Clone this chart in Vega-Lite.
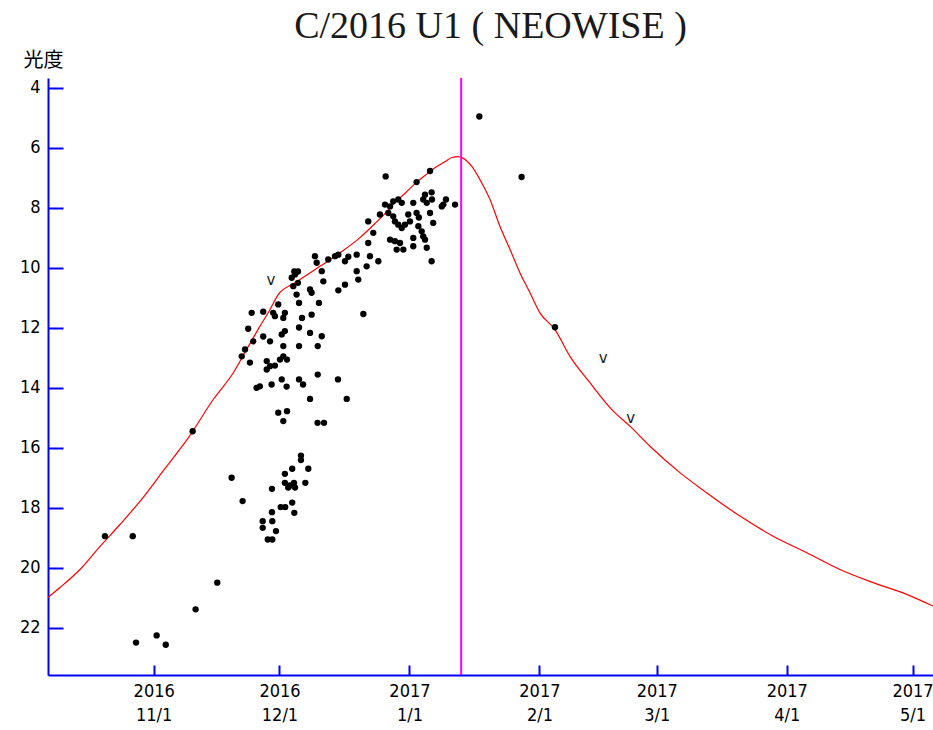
{
  "$schema": "https://vega.github.io/schema/vega-lite/v6.json",
  "autosize": "none",
  "width": 885,
  "height": 597,
  "padding": {"left": 48, "top": 78, "right": 0, "bottom": 55},
  "background": "white",
  "title": {
    "text": "C/2016 U1 ( NEOWISE )",
    "font": "Liberation Serif",
    "fontSize": 38,
    "fontWeight": "normal",
    "color": "#1a1a1a",
    "anchor": "middle",
    "frame": "group",
    "baseline": "alphabetic",
    "offset": -26
  },
  "config": {
    "view": {"stroke": null},
    "axis": {
      "grid": false,
      "domainColor": "#0000ff",
      "domainWidth": 2,
      "tickColor": "#0000ff",
      "tickWidth": 2,
      "labelColor": "#000000",
      "labelFont": "DejaVu Sans Condensed",
      "labelFontSize": 18
    }
  },
  "datasets": {
    "curve": [
      {"date": "2016-10-06T19:00", "mag": 20.99},
      {"date": "2016-10-09T16:00", "mag": 20.66},
      {"date": "2016-10-14T10:00", "mag": 20.06},
      {"date": "2016-10-19T05:00", "mag": 19.29},
      {"date": "2016-10-23T23:00", "mag": 18.56},
      {"date": "2016-10-29T03:00", "mag": 17.72},
      {"date": "2016-11-03T17:00", "mag": 16.69},
      {"date": "2016-11-09T06:00", "mag": 15.67},
      {"date": "2016-11-15T05:00", "mag": 14.39},
      {"date": "2016-11-20T00:00", "mag": 13.5},
      {"date": "2016-11-23T04:00", "mag": 12.72},
      {"date": "2016-11-26T08:00", "mag": 11.95},
      {"date": "2016-11-28T18:00", "mag": 11.39},
      {"date": "2016-11-30T17:00", "mag": 10.89},
      {"date": "2016-12-04T17:00", "mag": 10.5},
      {"date": "2016-12-10T16:00", "mag": 9.95},
      {"date": "2016-12-15T10:00", "mag": 9.5},
      {"date": "2016-12-20T05:00", "mag": 8.99},
      {"date": "2016-12-23T19:00", "mag": 8.52},
      {"date": "2016-12-26T04:00", "mag": 8.19},
      {"date": "2016-12-28T13:00", "mag": 7.82},
      {"date": "2016-12-30T22:00", "mag": 7.52},
      {"date": "2017-01-02T08:00", "mag": 7.19},
      {"date": "2017-01-04T17:00", "mag": 6.92},
      {"date": "2017-01-07T02:00", "mag": 6.66},
      {"date": "2017-01-09T11:00", "mag": 6.46},
      {"date": "2017-01-11T03:00", "mag": 6.32},
      {"date": "2017-01-12T14:00", "mag": 6.29},
      {"date": "2017-01-13T18:00", "mag": 6.34},
      {"date": "2017-01-15T20:00", "mag": 6.61},
      {"date": "2017-01-18T06:00", "mag": 7.17},
      {"date": "2017-01-20T05:00", "mag": 7.72},
      {"date": "2017-01-22T14:00", "mag": 8.61},
      {"date": "2017-01-25T00:00", "mag": 9.39},
      {"date": "2017-01-27T09:00", "mag": 10.17},
      {"date": "2017-01-29T18:00", "mag": 10.83},
      {"date": "2017-02-01T03:00", "mag": 11.5},
      {"date": "2017-02-04T17:00", "mag": 12.06},
      {"date": "2017-02-08T07:00", "mag": 12.95},
      {"date": "2017-02-13T01:00", "mag": 13.83},
      {"date": "2017-02-18T15:00", "mag": 14.78},
      {"date": "2017-02-22T14:00", "mag": 15.28},
      {"date": "2017-02-27T09:00", "mag": 15.95},
      {"date": "2017-03-06T12:00", "mag": 16.83},
      {"date": "2017-03-12T21:00", "mag": 17.5},
      {"date": "2017-03-20T20:00", "mag": 18.28},
      {"date": "2017-03-28T18:00", "mag": 18.95},
      {"date": "2017-04-05T18:00", "mag": 19.5},
      {"date": "2017-04-13T16:00", "mag": 20.06},
      {"date": "2017-04-21T15:00", "mag": 20.5},
      {"date": "2017-04-29T14:00", "mag": 20.89},
      {"date": "2017-05-05T21:00", "mag": 21.28}
    ],
    "perihelion": [{"date": "2017-01-13T08:00"}],
    "limits": [
      {"date": "2016-11-28T23:00", "mag": 10.39, "note": "v"},
      {"date": "2017-02-16T05:00", "mag": 13.0, "note": "v"},
      {"date": "2017-02-22T18:00", "mag": 15.0, "note": "v"}
    ],
    "obs": [
      {"date": "2016-10-20T09:00", "mag": 18.95},
      {"date": "2016-10-27T00:00", "mag": 18.95},
      {"date": "2016-10-27T19:00", "mag": 22.5},
      {"date": "2016-11-01T17:00", "mag": 22.26},
      {"date": "2016-11-03T21:00", "mag": 22.57},
      {"date": "2016-11-11T00:00", "mag": 21.39},
      {"date": "2016-11-16T04:00", "mag": 20.5},
      {"date": "2016-11-10T07:00", "mag": 15.45},
      {"date": "2016-11-19T14:00", "mag": 17.0},
      {"date": "2016-11-22T05:00", "mag": 17.78},
      {"date": "2016-12-06T03:00", "mag": 16.26},
      {"date": "2016-12-06T03:00", "mag": 16.41},
      {"date": "2016-12-04T01:00", "mag": 16.7},
      {"date": "2016-12-07T21:00", "mag": 16.7},
      {"date": "2016-12-02T07:00", "mag": 16.87},
      {"date": "2016-12-02T07:00", "mag": 17.17},
      {"date": "2016-12-03T12:00", "mag": 17.26},
      {"date": "2016-12-04T11:00", "mag": 17.17},
      {"date": "2016-12-04T17:00", "mag": 17.33},
      {"date": "2016-12-03T02:00", "mag": 17.33},
      {"date": "2016-12-07T04:00", "mag": 17.17},
      {"date": "2016-11-29T05:00", "mag": 17.37},
      {"date": "2016-12-01T07:00", "mag": 17.98},
      {"date": "2016-12-02T09:00", "mag": 17.98},
      {"date": "2016-12-04T01:00", "mag": 17.83},
      {"date": "2016-12-04T13:00", "mag": 18.17},
      {"date": "2016-11-29T05:00", "mag": 18.15},
      {"date": "2016-11-27T00:00", "mag": 18.45},
      {"date": "2016-11-27T00:00", "mag": 18.67},
      {"date": "2016-11-29T07:00", "mag": 18.45},
      {"date": "2016-11-30T04:00", "mag": 18.78},
      {"date": "2016-11-28T05:00", "mag": 19.06},
      {"date": "2016-11-29T07:00", "mag": 19.06},
      {"date": "2016-12-01T22:00", "mag": 15.11},
      {"date": "2016-12-10T02:00", "mag": 15.17},
      {"date": "2016-12-11T15:00", "mag": 15.17},
      {"date": "2016-11-30T17:00", "mag": 14.83},
      {"date": "2016-12-02T19:00", "mag": 14.78},
      {"date": "2016-12-08T07:00", "mag": 14.37},
      {"date": "2016-12-17T01:00", "mag": 14.37},
      {"date": "2016-12-14T23:00", "mag": 13.72},
      {"date": "2016-12-10T03:00", "mag": 13.56},
      {"date": "2016-12-05T16:00", "mag": 13.72},
      {"date": "2016-12-06T15:00", "mag": 13.89},
      {"date": "2016-12-02T17:00", "mag": 13.96},
      {"date": "2016-12-01T13:00", "mag": 13.72},
      {"date": "2016-11-29T03:00", "mag": 13.89},
      {"date": "2016-11-25T13:00", "mag": 14.0},
      {"date": "2016-11-26T08:00", "mag": 13.95},
      {"date": "2016-11-29T22:00", "mag": 13.26},
      {"date": "2016-11-27T23:00", "mag": 13.11},
      {"date": "2016-11-28T18:00", "mag": 13.28},
      {"date": "2016-11-27T23:00", "mag": 13.39},
      {"date": "2016-12-01T03:00", "mag": 13.06},
      {"date": "2016-12-01T22:00", "mag": 12.95},
      {"date": "2016-12-02T19:00", "mag": 13.06},
      {"date": "2016-11-23T23:00", "mag": 13.16},
      {"date": "2016-11-22T19:00", "mag": 12.72},
      {"date": "2016-11-22T00:00", "mag": 12.95},
      {"date": "2016-11-24T18:00", "mag": 12.45},
      {"date": "2016-11-27T03:00", "mag": 12.29},
      {"date": "2016-11-28T18:00", "mag": 12.45},
      {"date": "2016-12-01T13:00", "mag": 12.22},
      {"date": "2016-12-02T07:00", "mag": 12.11},
      {"date": "2016-12-01T22:00", "mag": 12.61},
      {"date": "2016-12-05T16:00", "mag": 12.61},
      {"date": "2016-12-10T03:00", "mag": 12.61},
      {"date": "2016-12-05T16:00", "mag": 11.99},
      {"date": "2016-12-08T07:00", "mag": 12.17},
      {"date": "2016-12-11T02:00", "mag": 12.28},
      {"date": "2016-11-23T13:00", "mag": 12.03},
      {"date": "2016-11-24T09:00", "mag": 11.5},
      {"date": "2016-11-27T03:00", "mag": 11.46},
      {"date": "2016-11-29T12:00", "mag": 11.5},
      {"date": "2016-11-29T22:00", "mag": 11.61},
      {"date": "2016-11-30T17:00", "mag": 11.22},
      {"date": "2016-12-02T07:00", "mag": 11.5},
      {"date": "2016-12-01T22:00", "mag": 11.67},
      {"date": "2016-12-06T09:00", "mag": 11.67},
      {"date": "2016-12-08T16:00", "mag": 11.56},
      {"date": "2016-12-05T16:00", "mag": 11.17},
      {"date": "2016-12-10T10:00", "mag": 11.17},
      {"date": "2016-12-05T02:00", "mag": 10.89},
      {"date": "2016-12-08T07:00", "mag": 10.72},
      {"date": "2016-12-08T16:00", "mag": 10.83},
      {"date": "2016-12-04T07:00", "mag": 10.61},
      {"date": "2016-12-05T10:00", "mag": 10.5},
      {"date": "2016-12-03T22:00", "mag": 10.33},
      {"date": "2016-12-04T17:00", "mag": 10.22},
      {"date": "2016-12-04T13:00", "mag": 10.12},
      {"date": "2016-12-05T10:00", "mag": 10.12},
      {"date": "2016-12-11T02:00", "mag": 10.11},
      {"date": "2016-12-11T11:00", "mag": 10.45},
      {"date": "2016-12-15T01:00", "mag": 10.75},
      {"date": "2016-12-16T15:00", "mag": 10.56},
      {"date": "2016-12-09T11:00", "mag": 9.61},
      {"date": "2016-12-09T21:00", "mag": 9.83},
      {"date": "2016-12-12T15:00", "mag": 9.72},
      {"date": "2016-12-14T06:00", "mag": 9.61},
      {"date": "2016-12-15T01:00", "mag": 9.56},
      {"date": "2016-12-16T15:00", "mag": 9.78},
      {"date": "2016-12-17T10:00", "mag": 9.63},
      {"date": "2016-12-19T10:00", "mag": 9.56},
      {"date": "2016-12-19T10:00", "mag": 10.11},
      {"date": "2016-12-19T19:00", "mag": 10.39},
      {"date": "2016-12-21T00:00", "mag": 11.54},
      {"date": "2016-12-21T19:00", "mag": 9.95},
      {"date": "2016-12-22T14:00", "mag": 9.61},
      {"date": "2016-12-24T14:00", "mag": 9.78},
      {"date": "2016-12-22T04:00", "mag": 9.17},
      {"date": "2016-12-23T09:00", "mag": 8.83},
      {"date": "2016-12-22T04:00", "mag": 8.45},
      {"date": "2016-12-24T23:00", "mag": 8.22},
      {"date": "2016-12-26T08:00", "mag": 6.95},
      {"date": "2017-01-02T17:00", "mag": 7.14},
      {"date": "2017-01-05T22:00", "mag": 6.77},
      {"date": "2016-12-26T04:00", "mag": 7.89},
      {"date": "2016-12-27T09:00", "mag": 7.95},
      {"date": "2016-12-28T03:00", "mag": 7.78},
      {"date": "2016-12-29T08:00", "mag": 7.72},
      {"date": "2016-12-30T04:00", "mag": 7.83},
      {"date": "2016-12-26T23:00", "mag": 8.17},
      {"date": "2016-12-28T03:00", "mag": 8.28},
      {"date": "2016-12-28T13:00", "mag": 8.45},
      {"date": "2016-12-29T08:00", "mag": 8.56},
      {"date": "2016-12-30T04:00", "mag": 8.67},
      {"date": "2016-12-30T22:00", "mag": 8.56},
      {"date": "2016-12-31T17:00", "mag": 8.22},
      {"date": "2017-01-01T03:00", "mag": 8.45},
      {"date": "2017-01-01T22:00", "mag": 7.83},
      {"date": "2017-01-02T17:00", "mag": 8.17},
      {"date": "2017-01-03T06:00", "mag": 8.32},
      {"date": "2017-01-03T03:00", "mag": 8.61},
      {"date": "2017-01-03T22:00", "mag": 8.78},
      {"date": "2017-01-04T07:00", "mag": 8.95},
      {"date": "2017-01-04T17:00", "mag": 9.06},
      {"date": "2017-01-06T16:00", "mag": 8.5},
      {"date": "2017-01-05T22:00", "mag": 8.17},
      {"date": "2016-12-27T09:00", "mag": 9.06},
      {"date": "2016-12-28T13:00", "mag": 9.11},
      {"date": "2016-12-29T18:00", "mag": 9.17},
      {"date": "2017-01-01T22:00", "mag": 9.0},
      {"date": "2017-01-01T22:00", "mag": 9.28},
      {"date": "2016-12-28T23:00", "mag": 9.39},
      {"date": "2016-12-30T13:00", "mag": 9.39},
      {"date": "2017-01-05T03:00", "mag": 9.33},
      {"date": "2017-01-06T07:00", "mag": 9.78},
      {"date": "2017-01-04T17:00", "mag": 7.56},
      {"date": "2017-01-06T07:00", "mag": 7.48},
      {"date": "2017-01-04T07:00", "mag": 7.72},
      {"date": "2017-01-05T03:00", "mag": 7.83},
      {"date": "2017-01-06T09:00", "mag": 7.72},
      {"date": "2017-01-09T02:00", "mag": 7.89},
      {"date": "2017-01-09T17:00", "mag": 7.72},
      {"date": "2017-01-11T21:00", "mag": 7.89},
      {"date": "2017-01-08T17:00", "mag": 7.95},
      {"date": "2017-01-17T16:00", "mag": 4.95},
      {"date": "2017-01-27T18:00", "mag": 6.97},
      {"date": "2017-02-04T17:00", "mag": 11.98}
    ]
  },
  "layer": [
    {
      "data": {"name": "curve"},
      "mark": {"type": "line", "color": "#ff0000", "strokeWidth": 1.2, "clip": true, "interpolate": "monotone"},
      "encoding": {
        "x": {
          "field": "date",
          "type": "temporal",
          "title": null,
          "scale": {"domain": [{"year": 2016, "month": 10, "date": 6, "hours": 19}, {"year": 2017, "month": 5, "date": 5, "hours": 21}], "nice": false},
          "axis": {
            "title": null,
            "values": [
              {"year": 2016, "month": 11, "date": 1},
              {"year": 2016, "month": 12, "date": 1},
              {"year": 2017, "month": 1, "date": 1},
              {"year": 2017, "month": 2, "date": 1},
              {"year": 2017, "month": 3, "date": 1},
              {"year": 2017, "month": 4, "date": 1},
              {"year": 2017, "month": 5, "date": 1}
            ],
            "labelExpr": "[timeFormat(datum.value, '%Y'), timeFormat(datum.value, '%-m/%-d')]",
            "tickSize": -10,
            "labelPadding": 17,
            "labelLineHeight": 24,
            "labelBaseline": "top",
            "labelFlush": false,
            "labelOverlap": false
          }
        },
        "y": {
          "field": "mag",
          "type": "quantitative",
          "title": "光度",
          "scale": {"domain": [3.667, 23.58], "reverse": true, "nice": false, "zero": false},
          "axis": {
            "values": [4, 6, 8, 10, 12, 14, 16, 18, 20, 22],
            "tickSize": -15,
            "labelPadding": 23,
            "title": "光度",
            "titleAngle": 0,
            "titleAlign": "left",
            "titleBaseline": "middle",
            "titleX": -25,
            "titleY": -18,
            "titleFont": "Noto Sans CJK JP",
            "titleFontSize": 20,
            "titleFontWeight": "normal",
            "titleColor": "#000000"
          }
        }
      }
    },
    {
      "data": {"name": "perihelion"},
      "mark": {"type": "rule", "color": "#ff00ff", "strokeWidth": 2},
      "encoding": {
        "x": {"field": "date", "type": "temporal", "title": null}
      }
    },
    {
      "data": {"name": "obs"},
      "mark": {"type": "circle", "color": "#000000", "opacity": 1, "size": 40},
      "encoding": {
        "x": {"field": "date", "type": "temporal", "title": null},
        "y": {"field": "mag", "type": "quantitative", "title": "光度"}
      }
    },
    {
      "data": {"name": "limits"},
      "mark": {"type": "text", "font": "DejaVu Sans", "fontSize": 15, "color": "#222222", "baseline": "middle", "align": "center"},
      "encoding": {
        "x": {"field": "date", "type": "temporal", "title": null},
        "y": {"field": "mag", "type": "quantitative", "title": "光度"},
        "text": {"field": "note"}
      }
    }
  ]
}
